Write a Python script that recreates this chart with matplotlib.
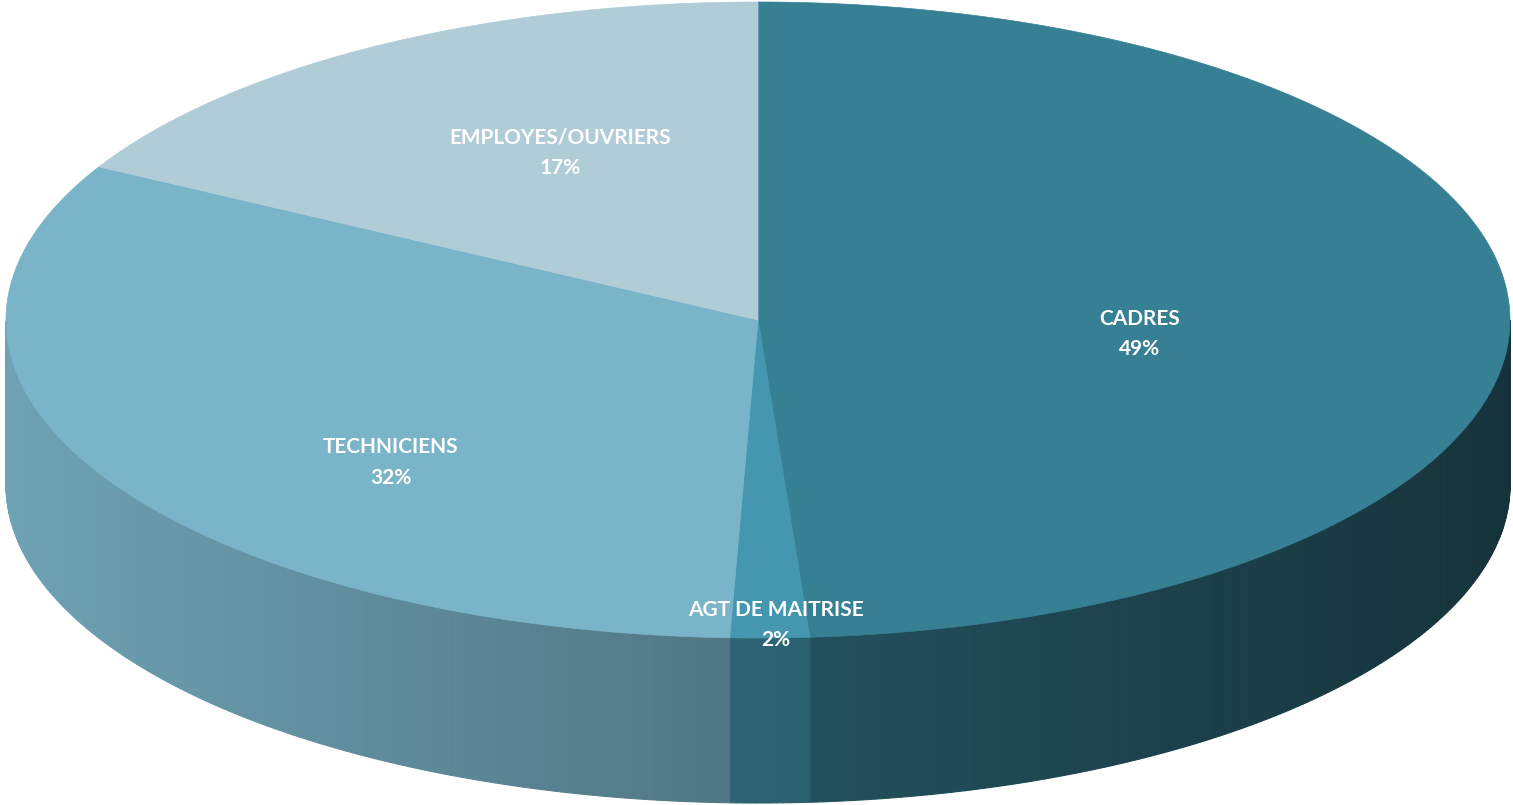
import numpy as np
import matplotlib.pyplot as plt
from matplotlib.patches import Polygon
from matplotlib.colors import to_rgb

# Données (parts estimées, étiquettes arrondies)
categories = ['CADRES', 'AGT DE MAITRISE', 'TECHNICIENS', 'EMPLOYES/OUVRIERS']
valeurs = [48.9, 1.7, 32.4, 17.0]

# Styles
couleurs = ['#377f93', '#4497af', '#7ab4c8', '#afccd7']
pos_etiquettes = [(0.508, 0.044), (0.024, 0.959), (-0.488, 0.447), (-0.263, -0.525)]

# Géométrie de la vue (pixels)
W, H = 1513, 805
cx, cy = 758, 320      # centre de la face supérieure
a, b = 752, 318        # demi-axes de l'ellipse
prof = 165             # épaisseur du camembert


def point(theta):
    t = np.radians(theta)
    return cx + a * np.cos(t), cy - b * np.sin(t)


def ombre(theta):
    # plus clair à gauche, plus sombre à droite
    x = (1 + np.cos(np.radians(theta))) / 2
    return 0.9 - 0.5 * x


fig = plt.figure(figsize=(W / 100, H / 100), dpi=100)
ax = fig.add_axes([0, 0, 1, 1])
ax.set_xlim(0, W)
ax.set_ylim(H, 0)
ax.axis('off')

total = sum(valeurs)
debut = 90.0
angles = []
for v in valeurs:
    fin = debut - v / total * 360
    angles.append((debut, fin))
    debut = fin

# Faces latérales (seulement l'avant, sin(theta) < 0)
for (t0, t1), coul in zip(angles, couleurs):
    rgb = np.array(to_rgb(coul))
    n = max(int(abs(t0 - t1) / 0.5), 2)
    ts = np.linspace(t0, t1, n + 1)
    for i in range(n):
        ta, tb = ts[i], ts[i + 1]
        tm = (ta + tb) / 2
        if np.sin(np.radians(tm)) >= 0:
            continue
        xa, ya = point(ta)
        xb, yb = point(tb)
        c = np.clip(rgb * ombre(tm), 0, 1)
        poly = Polygon([(xa, ya), (xb, yb), (xb, yb + prof), (xa, ya + prof)],
                       closed=True, facecolor=c, edgecolor=c, lw=0.8)
        ax.add_patch(poly)

# Faces supérieures
for (t0, t1), coul in zip(angles, couleurs):
    ts = np.linspace(t0, t1, 300)
    pts = [(cx, cy)] + [point(t) for t in ts]
    ax.add_patch(Polygon(pts, closed=True, facecolor=coul, edgecolor=coul, lw=0.5))

# Étiquettes
for cat, v, (fx, fy) in zip(categories, valeurs, pos_etiquettes):
    pct = f'{v / total * 100:.0f}%'
    ax.text(cx + fx * a, cy + fy * b, f'{cat}\n{pct}', ha='center', va='center',
            multialignment='center', color='white', fontsize=15, fontweight='bold',
            family=['Lato', 'DejaVu Sans'], linespacing=1.68)

fig.savefig('out.png', dpi=100)
